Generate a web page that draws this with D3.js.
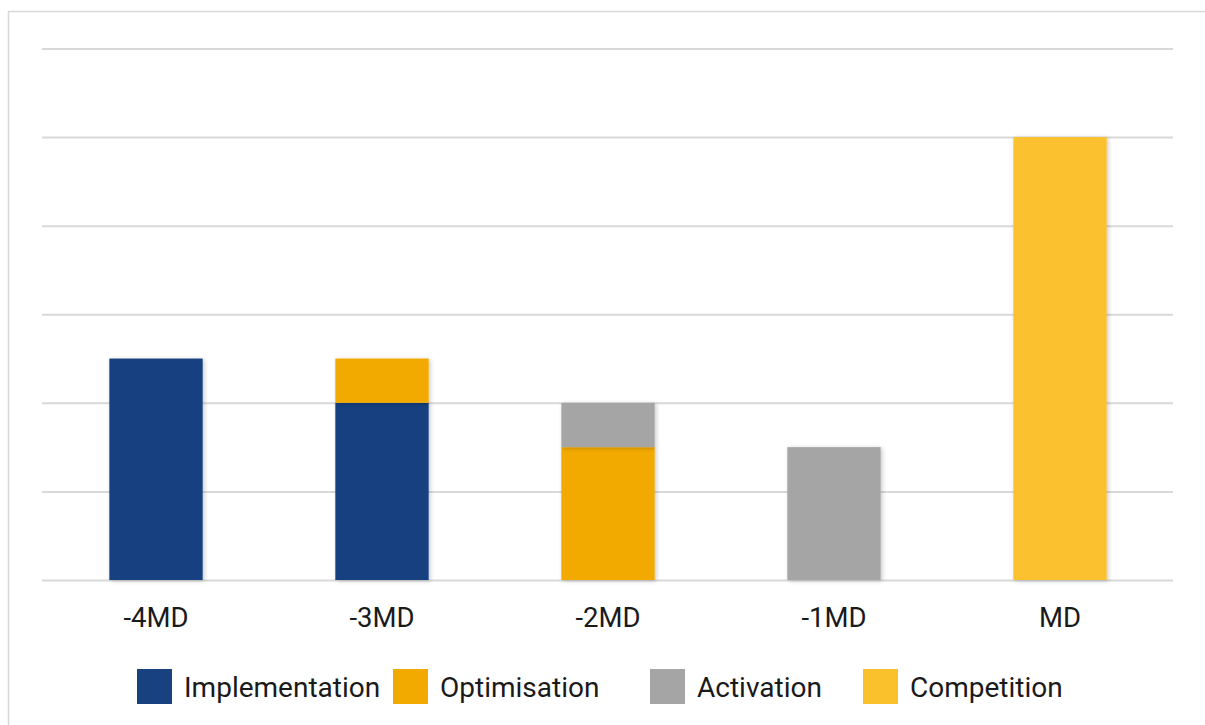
<!DOCTYPE html>
<html>
<head>
<meta charset="utf-8">
<script src="https://cdn.jsdelivr.net/npm/d3@7"></script>
<style>
  html, body { margin: 0; padding: 0; background: #fff; }
  svg { display: block; }
</style>
</head>
<body>
<svg id="chart" width="1205" height="725"></svg>
<script>
const categories = ["-4MD", "-3MD", "-2MD", "-1MD", "MD"];
const seriesNames = ["Implementation", "Optimisation", "Activation", "Competition"];
const implementation = [2.5, 2, 0, 0, 0];
const optimisation = [0, 0.5, 1.5, 0, 0];
const activation = [0, 0, 0.5, 1.5, 0];
const competition = [0, 0, 0, 0, 5];
const yTicks = [0, 1, 2, 3, 4, 5, 6];
const colors = ["#17417F", "#F2A900", "#A5A5A5", "#FBC12D"];

const seriesValues = [implementation, optimisation, activation, competition];
const table = categories.map((c, i) => {
  const row = { category: c };
  seriesNames.forEach((s, k) => row[s] = seriesValues[k][i]);
  return row;
});

const svg = d3.select("#chart");
const font = "Roboto, 'Noto Sans', sans-serif";

// outer border (extends past right/bottom edges)
svg.append("rect")
  .attr("x", 8.5).attr("y", 11.5)
  .attr("width", 1300).attr("height", 800)
  .attr("fill", "none").attr("stroke", "#D9D9D9").attr("stroke-width", 1.5);

const defs = svg.append("defs");
const f = defs.append("filter").attr("id", "shadow")
  .attr("x", "-10%").attr("y", "-10%").attr("width", "130%").attr("height", "130%");
f.append("feDropShadow").attr("dx", 1.5).attr("dy", 1).attr("stdDeviation", 2)
  .attr("flood-color", "#000").attr("flood-opacity", 0.22);

const x = d3.scaleBand().domain(categories).range([43, 1173])
  .paddingInner(0.587).paddingOuter(0.2935);
const y = d3.scaleLinear().domain([0, 6]).range([580, 48.5]);

// gridlines
const yAxis = d3.axisLeft(y).tickValues(yTicks).tickSize(-(1173 - 42)).tickFormat("");
const gy = svg.append("g").attr("transform", "translate(42,0)").call(yAxis);
gy.select(".domain").remove();
gy.selectAll(".tick line").attr("stroke", "#D9D9D9").attr("stroke-width", 2);

// stacked bars
const stack = d3.stack().keys(seriesNames);
const stacked = stack(table);
const layers = svg.append("g").selectAll("g").data(stacked).join("g")
  .attr("fill", (d, i) => colors[i]);
layers.selectAll("rect")
  .data(d => d.filter(p => p[1] - p[0] > 0))
  .join("rect")
  .attr("x", d => x(d.data.category))
  .attr("y", d => y(d[1]))
  .attr("width", x.bandwidth())
  .attr("height", d => y(d[0]) - y(d[1]))
  .attr("filter", "url(#shadow)");

// x axis labels
const xAxis = d3.axisBottom(x).tickSize(0).tickPadding(0);
const gx = svg.append("g").attr("transform", "translate(0,607)").call(xAxis);
gx.select(".domain").remove();
gx.selectAll(".tick text")
  .attr("dy", "0.71em")
  .attr("font-family", font).attr("font-size", 27.5).attr("fill", "#1a1a1a");

// legend
const legendX = [137, 393, 650, 863];
const lg = svg.append("g").selectAll("g").data(seriesNames).join("g")
  .attr("transform", (d, i) => `translate(${legendX[i]},669)`);
lg.append("rect").attr("width", 35).attr("height", 35)
  .attr("fill", (d, i) => colors[i]);
lg.append("text").attr("x", 47).attr("y", 28)
  .attr("font-family", font).attr("font-size", 28).attr("fill", "#1a1a1a")
  .text(d => d);
</script>
</body>
</html>
